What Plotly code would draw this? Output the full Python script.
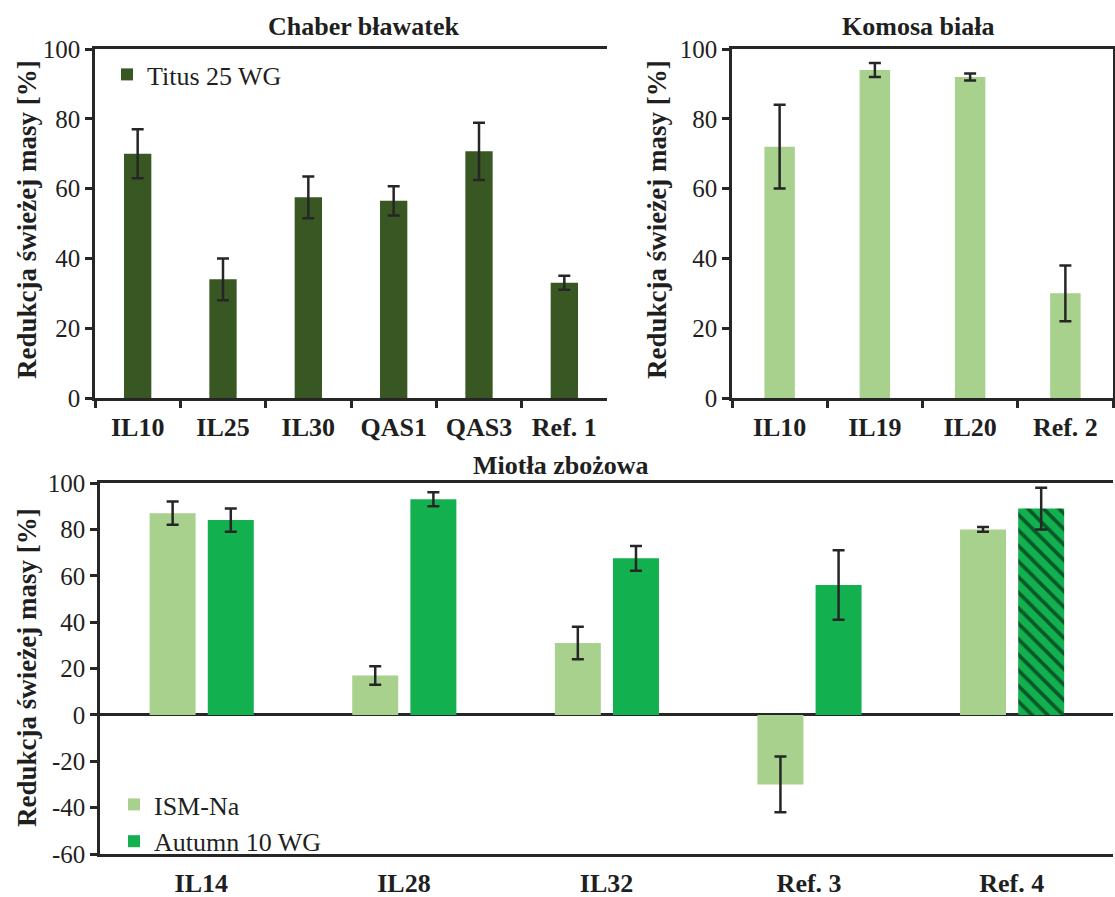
import plotly.graph_objects as go

# ---------------- data ----------------
chaber_cats = ["IL10", "IL25", "IL30", "QAS1", "QAS3", "Ref. 1"]
chaber_vals = [70, 34, 57.5, 56.5, 70.7, 33]
chaber_err = [7, 6, 6, 4.2, 8.2, 2]

komosa_cats = ["IL10", "IL19", "IL20", "Ref. 2"]
komosa_vals = [72, 94, 92, 30]
komosa_err = [12, 2, 1, 8]

miotla_cats = ["IL14", "IL28", "IL32", "Ref. 3", "Ref. 4"]
ism_vals = [87, 17, 31, -30, 80]
ism_err = [5, 4, 7, 12, 1]
autumn_vals = [84, 93, 67.5, 56, 89]
autumn_err = [5, 3, 5.3, 15, 9]
autumn_pattern = ["", "", "", "", "\\"]

bottom_ticks = [-60, -40, -20, 0, 20, 40, 60, 80, 100]
bottom_ticktext = ["-60", "-40", "-20", "0", "20", "40", "60", "80", "100"]

# ---------------- styles ----------------
W, H = 1115, 897
FONT = "Liberation Serif"
TXT = "#1f1f1f"
LINE = "#262626"
DARK = "#385723"
LIGHT = "#A9D18E"
BRIGHT = "#12B04E"


def px_x(x):
    return x / W


def px_y(y):
    return 1 - y / H


err_style = dict(type="data", visible=True, color=LINE, thickness=2.5, width=6)

fig = go.Figure()

fig.add_trace(go.Bar(
    x=chaber_cats, y=chaber_vals, name="Titus 25 WG",
    marker=dict(color=DARK, line=dict(width=0)),
    error_y=dict(array=chaber_err, **err_style),
    width=0.32, xaxis="x", yaxis="y", legend="legend",
))

fig.add_trace(go.Bar(
    x=komosa_cats, y=komosa_vals, name="Komosa",
    marker=dict(color=LIGHT, line=dict(width=0)),
    error_y=dict(array=komosa_err, **err_style),
    width=0.32, xaxis="x2", yaxis="y2", showlegend=False,
))

fig.add_trace(go.Bar(
    x=miotla_cats, y=ism_vals, name="ISM-Na",
    marker=dict(color=LIGHT, line=dict(width=0)),
    error_y=dict(array=ism_err, **err_style),
    width=0.227, offset=-0.255, xaxis="x3", yaxis="y3", legend="legend2",
))

fig.add_trace(go.Bar(
    x=miotla_cats, y=autumn_vals, name="Autumn 10 WG",
    marker=dict(color=BRIGHT, line=dict(width=0),
                pattern=dict(shape=autumn_pattern, fgcolor="black",
                             bgcolor=BRIGHT, size=11, solidity=0.33,
                             fillmode="overlay")),
    error_y=dict(array=autumn_err, **err_style),
    width=0.227, offset=0.032, xaxis="x3", yaxis="y3", legend="legend2",
))

tickfont = dict(family=FONT, size=25, color=TXT)
catfont = dict(family=FONT, size=26, color=TXT, weight="bold")

common_y = dict(showgrid=False, showline=True, linecolor=LINE, linewidth=2.5,
                ticks="outside", ticklen=7, tickwidth=2.5, tickcolor=LINE,
                tickfont=tickfont, automargin=False)
common_x = dict(showgrid=False, showline=True, linecolor=LINE, linewidth=2.5,
                tickfont=catfont, type="category", zeroline=False,
                automargin=False)

y_top = [px_y(398), px_y(49)]
y_bot = [px_y(854), px_y(483)]

fig.update_layout(
    width=W, height=H,
    margin=dict(l=0, r=0, t=0, b=0, autoexpand=False),
    paper_bgcolor="white", plot_bgcolor="white",
    barmode="overlay",
    font=dict(family=FONT, size=26, color=TXT),
    xaxis=dict(domain=[px_x(95), px_x(607)], anchor="y", mirror=True,
               ticks="outside", ticklen=7, tickwidth=2.5, tickcolor=LINE,
               tickson="boundaries", ticklabelstandoff=4, **common_x),
    yaxis=dict(domain=y_top, anchor="x", range=[0, 100], dtick=20,
               zeroline=False, **common_y),
    xaxis2=dict(domain=[px_x(732), px_x(1113)], anchor="y2", mirror=True,
                ticks="outside", ticklen=7, tickwidth=2.5, tickcolor=LINE,
                tickson="boundaries", ticklabelstandoff=4, **common_x),
    yaxis2=dict(domain=y_top, anchor="x2", range=[0, 100], dtick=20,
                mirror=True, zeroline=False, **common_y),
    xaxis3=dict(domain=[px_x(100), px_x(1113)], anchor="y3", mirror=True,
                ticks="", ticklabelstandoff=4, **common_x),
    yaxis3=dict(domain=y_bot, anchor="x3", range=[-60, 100],
                tickmode="array", tickvals=bottom_ticks, ticktext=bottom_ticktext,
                zeroline=True, zerolinecolor=LINE, zerolinewidth=2.5,
                **common_y),
    legend=dict(x=px_x(107), y=px_y(51), xanchor="left", yanchor="top",
                bgcolor="rgba(0,0,0,0)",
                font=dict(family=FONT, size=26, color=TXT),
                itemwidth=30, tracegroupgap=0),
    legend2=dict(x=px_x(114), y=px_y(781), xanchor="left", yanchor="top",
                 bgcolor="rgba(0,0,0,0)",
                 font=dict(family=FONT, size=26, color=TXT),
                 itemwidth=30, tracegroupgap=0, traceorder="normal"),
)

titles = [
    ("Chaber bławatek", 363, 27),
    ("Komosa biała", 918, 27),
    ("Miotła zbożowa", 560, 466),
]
for text, x, y in titles:
    fig.add_annotation(text="<b>" + text + "</b>", x=px_x(x), y=px_y(y),
                       xref="paper", yref="paper", showarrow=False,
                       xanchor="center", yanchor="middle",
                       font=dict(family=FONT, size=26, color=TXT))

ytitle = "<b>Redukcja świeżej masy [%]</b>"
for x, y in [(27, 220), (657, 220), (27, 668)]:
    fig.add_annotation(text=ytitle, x=px_x(x), y=px_y(y), xref="paper",
                       yref="paper", showarrow=False, textangle=-90,
                       xanchor="center", yanchor="middle",
                       font=dict(family=FONT, size=27, color=TXT))

fig.write_html("out.html")
